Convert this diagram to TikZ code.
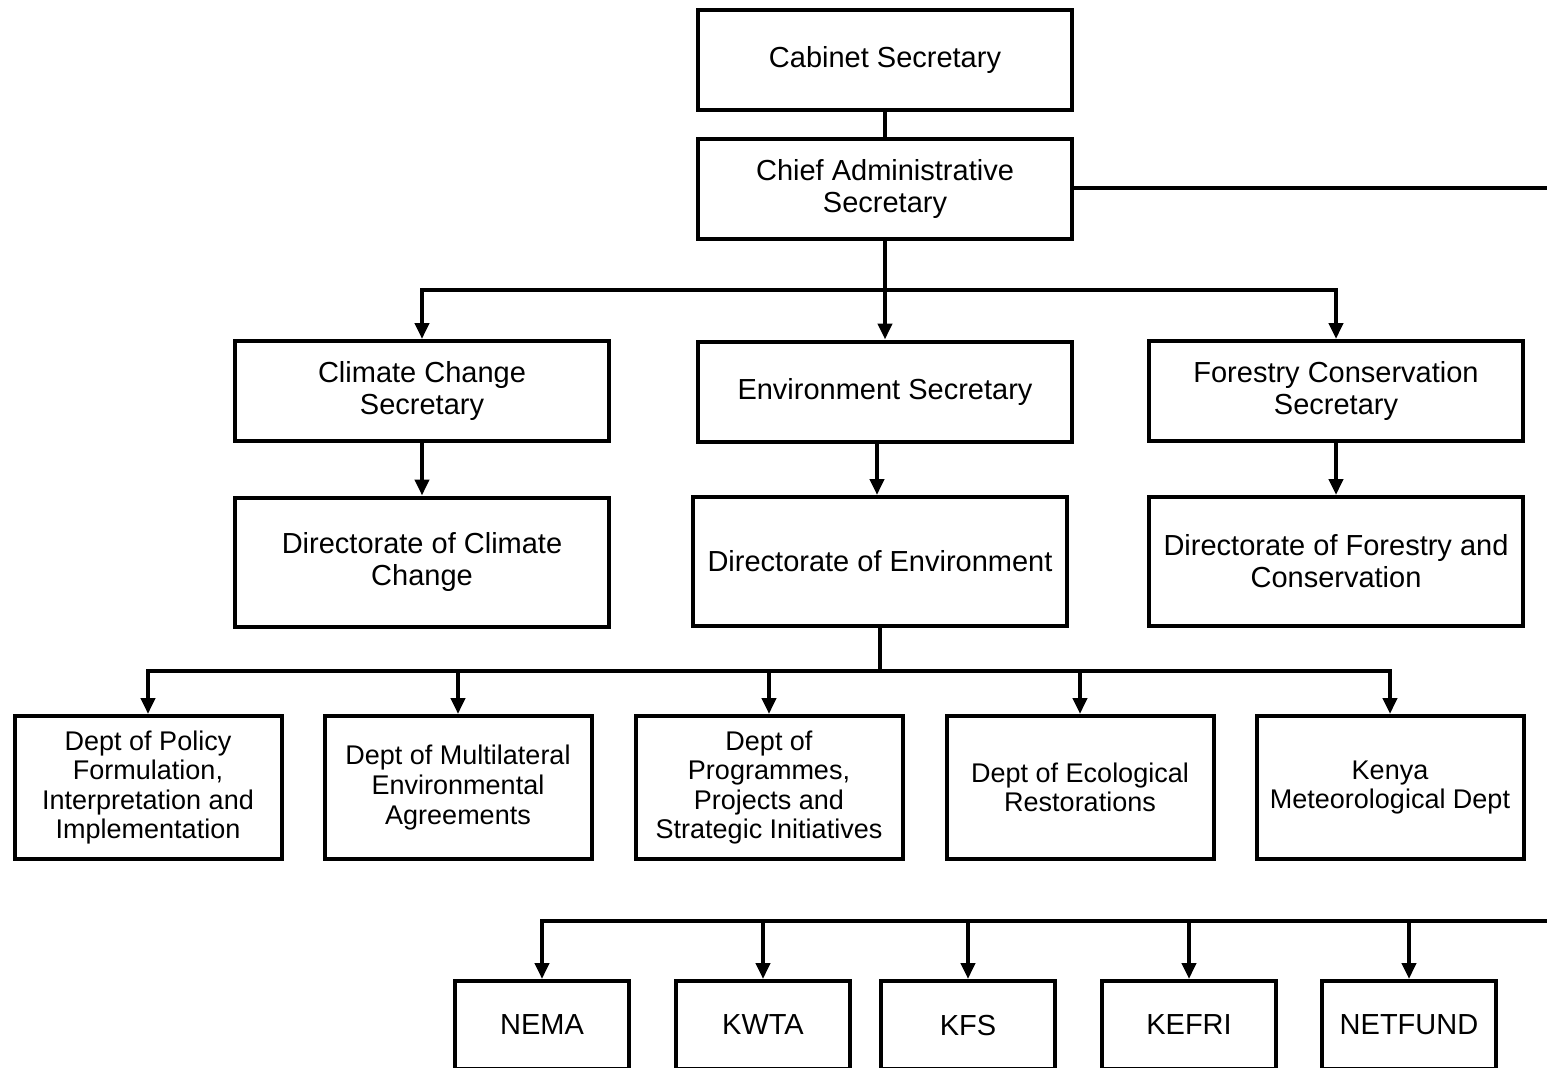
\documentclass[tikz,border=0pt]{standalone}
\usepackage{fontspec}
\setmainfont{Liberation Sans}
\usetikzlibrary{arrows.meta}
\begin{document}
\begin{tikzpicture}[x=0.5pt,y=-0.5pt,
  unit/.style={draw,line width=2pt,inner sep=2pt,align=center,
    font=\fontsize{14.5}{16}\selectfont,minimum width=187pt,minimum height=50pt},
  dept/.style={unit,minimum width=133.5pt,minimum height=71.5pt,
    font=\fontsize{13.5}{14.8}\selectfont},
  body/.style={unit,minimum width=87pt,minimum height=44pt},
  link/.style={line width=2pt},
  arr/.style={link,-{Triangle[width=7pt,length=8pt]}}]
\useasboundingbox (0,0) rectangle (1547,1067);
\clip (0,0) rectangle (1547,1067);
% top of the ministry
\node[unit] (cs) at (885,59.5) {Cabinet Secretary};
\node[unit] (cas) at (885,189) {Chief Administrative\\Secretary};
% secretaries and directorates
\node[unit] (ccs) at (422,391) {Climate Change\\Secretary};
\node[unit] (es) at (885,391.5) {Environment Secretary};
\node[unit] (fcs) at (1336,391) {Forestry Conservation\\Secretary};
\node[unit,minimum height=64.5pt] (dcc) at (422,562) {Directorate of Climate\\Change};
\node[unit,minimum height=64.5pt] (de) at (880,561.5) {Directorate of Environment};
\node[unit,minimum height=64.5pt] (dfc) at (1336,561.5) {Directorate of Forestry and\\Conservation};
% departments
\node[dept] (pol) at (148,787.5) {Dept of Policy\\Formulation,\\Interpretation and\\Implementation};
\node[dept] (mea) at (458,787.5) {Dept of Multilateral\\Environmental\\Agreements};
\node[dept] (pps) at (769,787.5) {Dept of\\Programmes,\\Projects and\\Strategic Initiatives};
\node[dept] (eco) at (1080,787.5) {Dept of Ecological\\Restorations};
\node[dept] (kmd) at (1390,787.5) {Kenya\\Meteorological Dept};
% agencies
\node[body] (nema) at (542,1025) {NEMA};
\node[body] (kwta) at (763,1025) {KWTA};
\node[body] (kfs) at (968,1025) {KFS};
\node[body] (kefri) at (1189,1025) {KEFRI};
\node[body] (netfund) at (1409,1025) {NETFUND};
% connectors
\coordinate (j1) at (885,290);
\coordinate (j2) at (880,671);
\coordinate (out) at (1560,188);
\coordinate (back) at (1560,921);
\draw[link] (cs) -- (cas);
\draw[link] (cas) -- (j1);
\draw[arr] (j1) -| (ccs.north);
\draw[arr] (j1) -- (es);
\draw[arr] (j1) -| (fcs.north);
\draw[arr] (ccs) -- (dcc);
\draw[arr] (es.south -| 877,0) -- (de.north -| 877,0);
\draw[arr] (fcs) -- (dfc);
\draw[link] (de) -- (j2);
\foreach \d in {pol,mea,pps,eco,kmd}
  \draw[arr] (j2) -| (\d.north);
\draw[link] (cas.east |- out) -- (out) -- (back);
\foreach \b in {nema,kwta,kfs,kefri,netfund}
  \draw[arr] (back) -| (\b.north);
\end{tikzpicture}
\end{document}
